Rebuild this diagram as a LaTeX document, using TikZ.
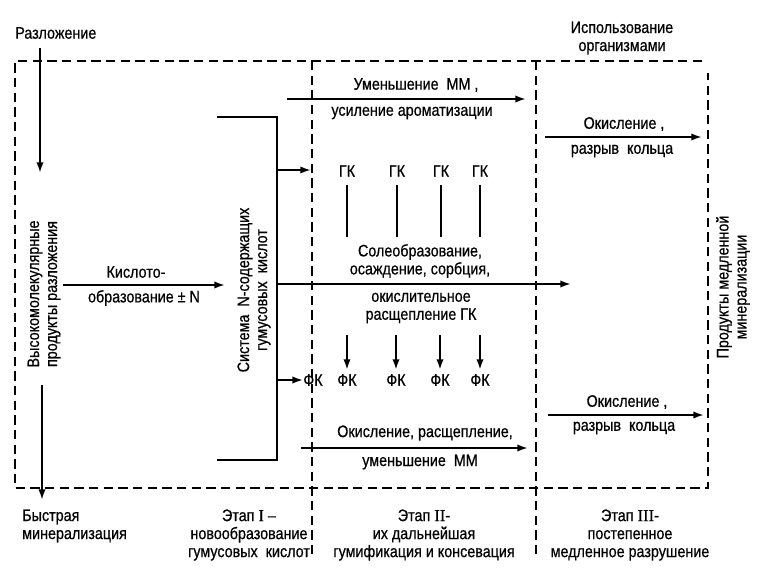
\documentclass[tikz,border=0pt]{standalone}
\usepackage{fontspec}
\setmainfont{Liberation Sans}[FakeStretch=0.86,FakeBold=0.6]
\newfontfamily\romfont{Liberation Serif}[FakeBold=0.6]
\usetikzlibrary{arrows.meta}
\begin{document}
\begin{tikzpicture}[x=0.75pt,y=-0.75pt,
  lbl/.style={font=\fontsize{12.5}{13.5}\selectfont, inner sep=0pt, align=center},
  arr/.style={line width=1.5pt, -{Latex[length=8pt,width=5.5pt]}},
  ln/.style={line width=1.5pt},
  dsh/.style={line width=0.9pt, dash pattern=on 7pt off 4pt}]
\useasboundingbox (0,0) rectangle (770,575);

% dashed frame and stage dividers
\coordinate (fTR) at (702,61);
\coordinate (fTL) at (15,61);
\coordinate (fBL) at (15,488);
\coordinate (fBR) at (708,488);
\coordinate (fRT) at (708,73);
\draw[dsh] (fTR) -- (fTL) -- (fBL) -- (fBR) -- (fRT);
\coordinate (d1t) at (312,61);
\coordinate (d1b) at (312,557);
\coordinate (d2t) at (536,61);
\coordinate (d2b) at (536,557);
\draw[dsh] (d1t) -- (d1b);
\draw[dsh] (d2t) -- (d2b);

% left column
\node[lbl, anchor=west] (razl) at (15,33) {Разложение};
\coordinate (a1s) at (40,48);
\coordinate (a1e) at (40,173);
\draw[arr] (a1s) -- (a1e);
\node[lbl, rotate=90] (vys) at (44,294) {Высокомолекулярные\\продукты разложения};
\coordinate (a2s) at (42,385);
\coordinate (a2e) at (42,500);
\draw[arr] (a2s) -- (a2e);
\node[lbl, align=left, anchor=west] (bystr) at (22,526) {Быстрая\\минерализация};

% acid formation arrow
\coordinate (k1) at (63,285);
\coordinate (k2) at (225,285);
\draw[arr] (k1) -- (k2);
\node[lbl] (kislo) at (136,272) {Кислото-};
\node[lbl] (obraz) at (144,298) {образование ± N};

% system of N-containing humic acids
\node[lbl, rotate=90] (sist) at (254,290) {Система \ N-содержащих\\гумусовых \ кислот};
\coordinate (bTL) at (217,117);
\coordinate (bTR) at (277,117);
\coordinate (bBR) at (277,460);
\coordinate (bBL) at (217,460);
\draw[ln] (bTL) -- (bTR) -- (bBR) -- (bBL);

% arrows out of the bracket
\coordinate (o1) at (277,170);
\coordinate (o1e) at (311,170);
\draw[arr] (o1) -- (o1e);
\coordinate (o2) at (277,284);
\coordinate (o2e) at (571,284);
\draw[arr] (o2) -- (o2e);
\coordinate (o3) at (277,380);
\node[lbl] (fk0) at (313,380) {ФК};
\draw[arr] (o3) -- (fk0.west);

% top arrow (stage II)
\coordinate (t1) at (287,99);
\coordinate (t2) at (526,99);
\draw[arr] (t1) -- (t2);
\node[lbl] (umen) at (416,85) {Уменьшение \ ММ ,};
\node[lbl] (usil) at (412,113) {усиление ароматизации};

% GK row
\node[lbl] (gk1) at (347,171) {ГК};
\node[lbl] (gk2) at (397,171) {ГК};
\node[lbl] (gk3) at (441,171) {ГК};
\node[lbl] (gk4) at (480,171) {ГК};
\coordinate (gkend) at (0,237);
\draw[ln, shorten <=6pt] (gk1.south) -- (gk1.south |- gkend);
\draw[ln, shorten <=6pt] (gk2.south) -- (gk2.south |- gkend);
\draw[ln, shorten <=6pt] (gk3.south) -- (gk3.south |- gkend);
\draw[ln, shorten <=6pt] (gk4.south) -- (gk4.south |- gkend);

\node[lbl] (sole) at (420,261) {Солеобразование,\\осаждение, сорбция,};
\node[lbl] (okisl) at (421,308) {окислительное\\расщепление ГК};

% FK row
\node[lbl] (fk1) at (347,380) {ФК};
\node[lbl] (fk2) at (396,380) {ФК};
\node[lbl] (fk3) at (440,380) {ФК};
\node[lbl] (fk4) at (480,380) {ФК};
\coordinate (dstart) at (0,335);
\draw[arr, shorten >=3pt] (fk1.north |- dstart) -- (fk1.north);
\draw[arr, shorten >=3pt] (fk2.north |- dstart) -- (fk2.north);
\draw[arr, shorten >=3pt] (fk3.north |- dstart) -- (fk3.north);
\draw[arr, shorten >=3pt] (fk4.north |- dstart) -- (fk4.north);

% bottom arrow (stage II)
\coordinate (b1) at (301,448);
\coordinate (b2) at (528,448);
\draw[arr] (b1) -- (b2);
\node[lbl] (okr) at (425,433) {Окисление, расщепление,};
\node[lbl] (umen2) at (420,462) {уменьшение \ ММ};

% stage III arrows
\node[lbl] (isp) at (622,38) {Использование\\организмами};
\coordinate (r1) at (545,137);
\coordinate (r1e) at (702,137);
\draw[arr] (r1) -- (r1e);
\node[lbl] (ok1) at (624,124) {Окисление ,};
\node[lbl] (raz1) at (622,151) {разрыв \ кольца};
\coordinate (r2) at (548,415);
\coordinate (r2e) at (704,415);
\draw[arr] (r2) -- (r2e);
\node[lbl] (ok2) at (627,402) {Окисление ,};
\node[lbl] (raz2) at (624,428) {разрыв \ кольца};

\node[lbl, rotate=90] (prod) at (733,287) {Продукты медленной\\минерализации};

% stage captions
\node[lbl] (et1) at (249,535) {Этап {\romfont I} –\\новообразование\\гумусовых \ кислот};
\node[lbl] (et2) at (424,535) {Этап {\romfont II}-\\их дальнейшая\\гумификация и консевация};
\node[lbl] (et3) at (630,535) {Этап {\romfont III}-\\постепенное\\медленное разрушение};
\end{tikzpicture}
\end{document}
